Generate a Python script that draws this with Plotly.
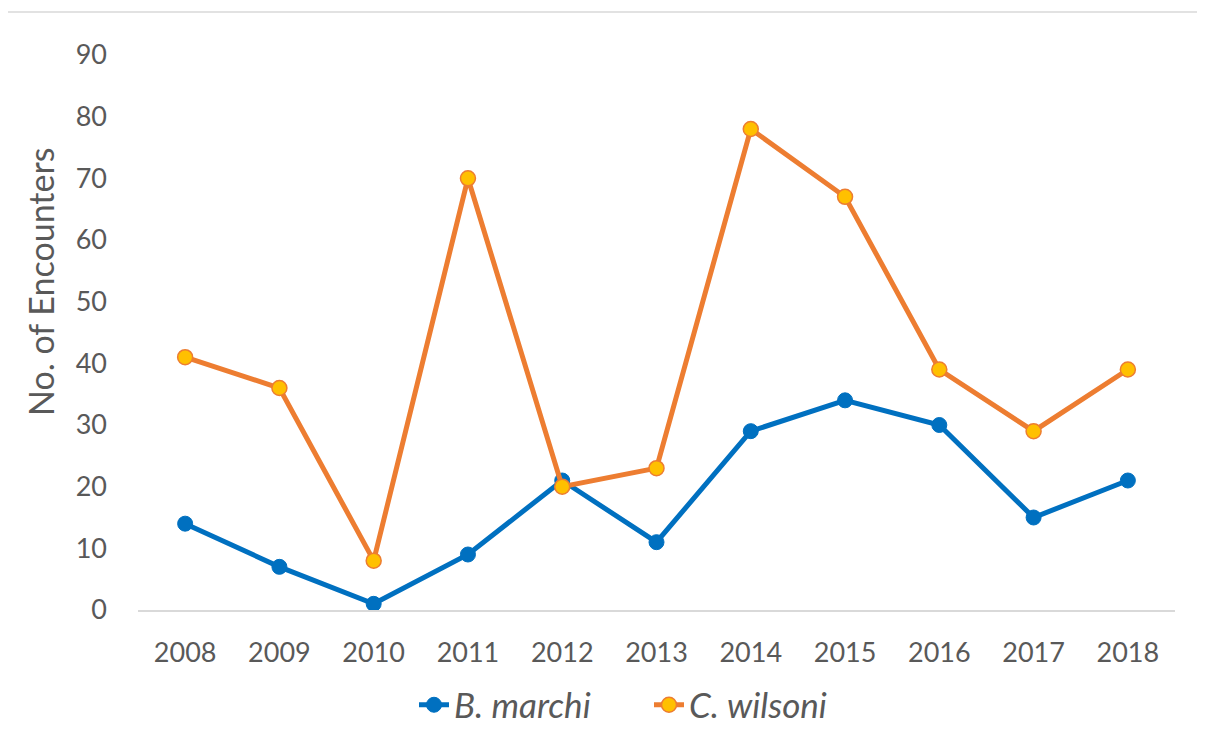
import plotly.graph_objects as go

years = ["2008", "2009", "2010", "2011", "2012", "2013", "2014", "2015", "2016", "2017", "2018"]
b_marchi = [14, 7, 1, 9, 21, 11, 29, 34, 30, 15, 21]
c_wilsoni = [41, 36, 8, 70, 20, 23, 78, 67, 39, 29, 39]
y_ticks = [0, 10, 20, 30, 40, 50, 60, 70, 80, 90]

FONT = "Lato"
GREY = "#595959"

fig = go.Figure()
fig.add_trace(go.Scatter(
    x=years, y=b_marchi, mode="lines+markers", name="<i>B. marchi</i>",
    line=dict(color="#0070C0", width=5),
    marker=dict(color="#0070C0", size=15, line=dict(color="#0070C0", width=1)),
))
fig.add_trace(go.Scatter(
    x=years, y=c_wilsoni, mode="lines+markers", name="<i>C. wilsoni</i>",
    line=dict(color="#ED7D31", width=5),
    marker=dict(color="#FFC000", size=15, line=dict(color="#ED7D31", width=1.5)),
))

# page offset (body margin) of 8px
OFF = 8
L, R, T, B = 138 - OFF, 30 + OFF, 55 - OFF, 135 + OFF
W, H = 1205, 745
pw = W - L - R
ph = H - T - B

def px_x(p):
    return (p - OFF - L) / pw

def px_y(p):
    return (H - B - (p - OFF)) / ph

fig.update_layout(
    width=W, height=H,
    margin=dict(l=L, r=R, t=T, b=B),
    paper_bgcolor="white", plot_bgcolor="white",
    font=dict(family=FONT, color=GREY, size=27),
    showlegend=True,
    legend=dict(
        orientation="h", x=px_x(414), xanchor="left", y=px_y(705), yanchor="middle",
        font=dict(family=FONT, size=35, color=GREY), bgcolor="rgba(0,0,0,0)",
        entrywidth=190, entrywidthmode="pixels", tracegroupgap=0,
    ),
    xaxis=dict(
        type="category", range=[-0.5, 10.5], showgrid=False, zeroline=False,
        showline=True, linecolor="#D9D9D9", linewidth=1.5, ticks="",
        tickfont=dict(family=FONT, size=27, color=GREY), ticklabelstandoff=18,
    ),
    yaxis=dict(
        range=[0, 90], tickvals=y_ticks, showgrid=False, zeroline=False,
        showline=False, ticks="",
        tickfont=dict(family=FONT, size=27, color=GREY), ticklabelstandoff=30,
    ),
    annotations=[dict(
        text="No. of Encounters", xref="paper", yref="paper",
        x=px_x(40), y=px_y(282), xanchor="center", yanchor="middle",
        textangle=-90, showarrow=False,
        font=dict(family=FONT, size=34, color=GREY),
    )],
    shapes=[dict(
        type="rect", xref="paper", yref="paper",
        x0=px_x(7), x1=px_x(1300), y0=px_y(900), y1=px_y(12),
        line=dict(color="#D9D9D9", width=1.5), fillcolor="rgba(0,0,0,0)", layer="below",
    )],
)

fig.write_html("out.html")
